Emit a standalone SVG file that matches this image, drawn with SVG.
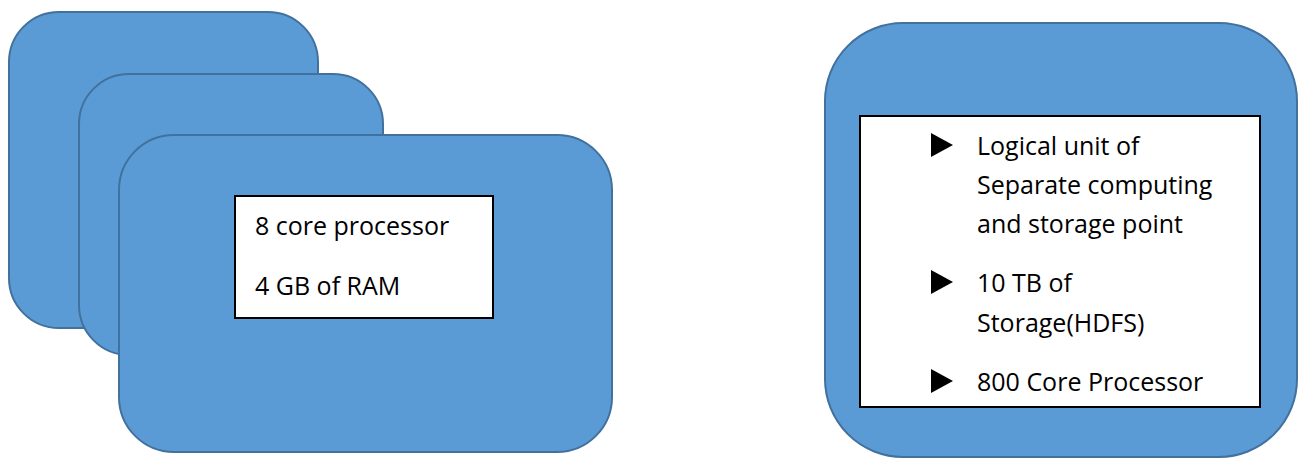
<svg xmlns="http://www.w3.org/2000/svg" width="1299" height="458" viewBox="0 0 1299 458">
<style>
.card{fill:#5B9BD5;stroke:#41719C;stroke-width:2}
.panel{fill:#FFFFFF;stroke:#000000;stroke-width:2}
.t{font-family:"Open Sans","Liberation Sans",sans-serif;font-size:25px;fill:#000000}
.bul{fill:#000000}
</style>
<g id="node-back">
<rect class="card" x="9" y="12" width="309" height="316" rx="50" ry="50"/>
</g>
<g id="node-middle">
<rect class="card" x="79" y="74" width="304" height="281" rx="50" ry="50"/>
</g>
<g id="node-front">
<rect class="card" x="119" y="135" width="493" height="317" rx="55" ry="55"/>
<rect class="panel" x="235" y="196" width="258" height="122"/>
<text class="t" x="255" y="235">8 core processor</text>
<text class="t" x="255" y="295">4 GB of RAM</text>
</g>
<g id="node-cluster">
<rect class="card" x="825" y="23" width="472" height="434" rx="78" ry="78"/>
<rect class="panel" x="860" y="116" width="400" height="291"/>
<polygon class="bul" points="931,133 953,145 931,157"/>
<polygon class="bul" points="931,270 953,282 931,294"/>
<polygon class="bul" points="931,369 953,381 931,393"/>
<text class="t" x="977" y="155">Logical unit of</text>
<text class="t" x="977" y="194">Separate computing</text>
<text class="t" x="977" y="233">and storage point</text>
<text class="t" x="977" y="292">10 TB of</text>
<text class="t" x="977" y="332">Storage(HDFS)</text>
<text class="t" x="977" y="391">800 Core Processor</text>
</g>
<g id="connectors"></g>
</svg>
